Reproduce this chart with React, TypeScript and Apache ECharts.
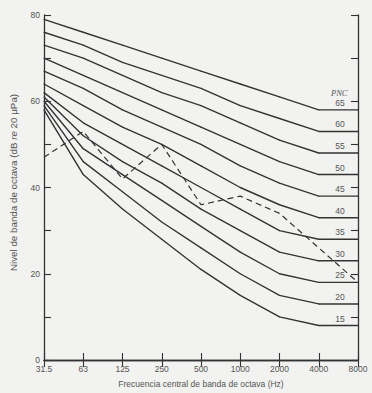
import React, { useEffect, useRef } from "react";
import * as echarts from "echarts";

const categories = ["31.5", "63", "125", "250", "500", "1000", "2000", "4000", "8000"];
const pncLevels = [15, 20, 25, 30, 35, 40, 45, 50, 55, 60, 65];
const pnc15 = [58, 43, 35, 28, 21, 15, 10, 8, 8];
const pnc20 = [59, 46, 39, 32, 26, 20, 15, 13, 13];
const pnc25 = [60, 49, 43, 37, 31, 25, 20, 18, 18];
const pnc30 = [61, 52, 46, 41, 35, 30, 25, 23, 23];
const pnc35 = [62, 55, 50, 45, 40, 35, 30, 28, 28];
const pnc40 = [64, 59, 54, 50, 45, 40, 36, 33, 33];
const pnc45 = [67, 63, 58, 54, 50, 45, 41, 38, 38];
const pnc50 = [70, 66, 62, 58, 54, 50, 46, 43, 43];
const pnc55 = [73, 70, 66, 62, 59, 55, 51, 48, 48];
const pnc60 = [76, 73, 69, 66, 63, 59, 56, 53, 53];
const pnc65 = [79, 76, 73, 70, 67, 64, 61, 58, 58];
const measured = [47, 53, 42, 50, 36, 38, 34, 26, 18];

const curves = [pnc15, pnc20, pnc25, pnc30, pnc35, pnc40, pnc45, pnc50, pnc55, pnc60, pnc65];

const LINE = "#333";
const TEXT = "#555";
const FONT = "Liberation Sans, Arial, sans-serif";

export default function App() {
  const ref = useRef<HTMLDivElement>(null);
  useEffect(() => {
    if (!ref.current) return;
    const chart = echarts.init(ref.current, undefined, { renderer: "svg" });
    const axisLine = { show: true, lineStyle: { color: LINE, width: 1.3 } };
    const tick = { show: true, inside: true, length: 7, lineStyle: { color: LINE, width: 1.1 } };
    const series: any[] = curves.map((vals, k) => ({
      type: "line",
      name: "PNC " + pncLevels[k],
      symbol: "circle",
      symbolSize: 1,
      showSymbol: true,
      itemStyle: { color: LINE },
      lineStyle: { color: LINE, width: 1.4 },
      data: vals.map((v, i) =>
        i === vals.length - 1
          ? {
              value: v,
              label: {
                show: true,
                formatter: String(pncLevels[k]),
                position: "top",
                distance: 2,
                offset: [-18, 0],
                color: TEXT,
                fontSize: 8.5,
                fontFamily: FONT,
              },
            }
          : v
      ),
    }));
    series.push({
      type: "line",
      name: "Medido",
      symbol: "none",
      lineStyle: { color: LINE, width: 1.2, type: [6, 4] },
      data: measured,
    });
    chart.setOption({
      animation: false,
      backgroundColor: "#f2f2f0",
      grid: { left: 39, right: 14, top: 15, bottom: 27 },
      xAxis: [
        {
          type: "category",
          data: categories,
          boundaryGap: false,
          position: "bottom",
          axisLine,
          axisTick: { ...tick, interval: 0 },
          axisLabel: { interval: 0, color: TEXT, fontSize: 8.5, fontFamily: FONT, margin: 4 },
          splitLine: { show: false },
          name: "Frecuencia central de banda de octava (Hz)",
          nameLocation: "middle",
          nameGap: 19,
          nameTextStyle: { color: TEXT, fontSize: 8.5, fontFamily: FONT },
        },
        {
          type: "category",
          data: categories,
          boundaryGap: false,
          position: "top",
          axisLine,
          axisTick: { ...tick, interval: 0 },
          axisLabel: { show: false },
          splitLine: { show: false },
        },
      ],
      yAxis: [
        {
          type: "value",
          min: 0,
          max: 80,
          interval: 10,
          position: "left",
          axisLine,
          axisTick: tick,
          splitLine: { show: false },
          axisLabel: {
            color: TEXT,
            fontSize: 8.5,
            fontFamily: FONT,
            margin: 4,
            formatter: (v: number) => (v % 20 === 0 ? String(v) : ""),
          },
          name: "Nivel de banda de octava (dB {i|re} 20 μPa)",
          nameLocation: "middle",
          nameRotate: 90,
          nameGap: 26,
          nameTextStyle: {
            color: TEXT,
            fontSize: 9.8,
            fontFamily: FONT,
            padding: [0, 0, 0, 10],
            rich: { i: { fontStyle: "italic", color: TEXT, fontSize: 9.8, fontFamily: FONT } },
          },
        },
        {
          type: "value",
          min: 0,
          max: 80,
          interval: 10,
          position: "right",
          axisLine,
          axisTick: tick,
          splitLine: { show: false },
          axisLabel: { show: false },
        },
      ],
      graphic: [
        {
          type: "text",
          left: 331,
          top: 88,
          style: {
            text: "PNC",
            fill: TEXT,
            font: "italic 8.5px Liberation Serif, serif",
          },
        },
      ],
      series,
    });
    return () => chart.dispose();
  }, []);
  return (
    <div
      ref={ref}
      style={{ position: "fixed", left: 0, top: 0, width: 372, height: 393 }}
    />
  );
}
